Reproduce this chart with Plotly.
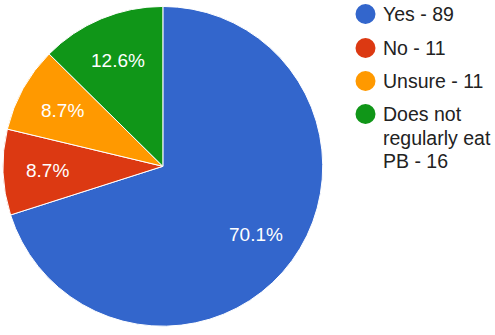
import math
import plotly.graph_objects as go

# Survey answers and counts
labels = ["Yes", "No", "Unsure", "Does not regularly eat PB"]
legend_lines = [["Yes - 89"], ["No - 11"], ["Unsure - 11"], ["Does not", "regularly eat", "PB - 16"]]
counts = [89, 11, 11, 16]
colors = ["#3366CC", "#DC3912", "#FF9900", "#109618"]

W, H = 495, 335
FONT = "Arial, Liberation Sans, sans-serif"

# Pie placement (paper fractions)
dom_x = [0.006, 0.652]
dom_y = [0.026, 0.981]

fig = go.Figure()

fig.add_trace(go.Pie(
    labels=labels,
    values=counts,
    sort=False,
    direction="clockwise",
    rotation=0,
    marker=dict(colors=colors, line=dict(color="white", width=1)),
    textinfo="none",
    hoverinfo="label+value+percent",
    showlegend=False,
    domain=dict(x=dom_x, y=dom_y),
))

# Percentage labels placed at the middle angle of each slice
total = sum(counts)
cx = (dom_x[0] + dom_x[1]) / 2
cy = (dom_y[0] + dom_y[1]) / 2
radius_px = min((dom_x[1] - dom_x[0]) * W, (dom_y[1] - dom_y[0]) * H) / 2
label_r = 0.72 * radius_px
cum = 0
annotations = []
for v in counts:
    mid = (cum + v / 2) / total * 2 * math.pi  # clockwise from 12 o'clock
    cum += v
    annotations.append(dict(
        x=cx + label_r * math.sin(mid) / W,
        y=cy + label_r * math.cos(mid) / H,
        xref="paper", yref="paper", showarrow=False,
        text=f"{v / total * 100:.1f}%",
        font=dict(family=FONT, size=19, color="white"),
        xanchor="center", yanchor="middle",
    ))

# Legend with round markers
shapes = []
leg_x_dot = 365.5
leg_x_text = 381
dot_r = 10
item_tops = [14, 48, 81, 114]
line_gap = 23.5
for col, lines, ty in zip(colors, legend_lines, item_tops):
    shapes.append(dict(
        type="circle", xref="paper", yref="paper",
        x0=(leg_x_dot - dot_r) / W, x1=(leg_x_dot + dot_r) / W,
        y0=1 - (ty + dot_r) / H, y1=1 - (ty - dot_r) / H,
        fillcolor=col, line=dict(width=0),
    ))
    for i, line in enumerate(lines):
        annotations.append(dict(
            x=leg_x_text / W, y=1 - (ty + i * line_gap) / H,
            xref="paper", yref="paper", showarrow=False,
            text=line, xanchor="left", yanchor="middle",
            font=dict(family=FONT, size=19.5, color="#222222"),
        ))

fig.update_layout(
    width=W, height=H,
    margin=dict(l=0, r=0, t=0, b=0),
    paper_bgcolor="white", plot_bgcolor="white",
    annotations=annotations,
    shapes=shapes,
)

fig.write_html("out.html")
